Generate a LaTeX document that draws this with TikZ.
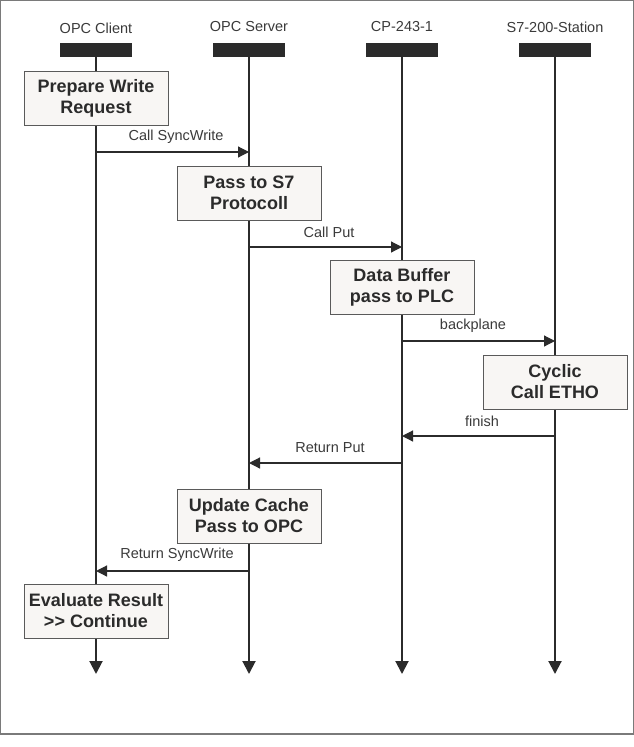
\documentclass[tikz,border=0pt]{standalone}
\usepackage{fontspec}
\setmainfont{Liberation Sans}
\usetikzlibrary{arrows.meta}
\definecolor{ink}{HTML}{2B2B2B}
\definecolor{lbl}{HTML}{3A3A3A}
\definecolor{boxfill}{HTML}{F8F6F4}
\definecolor{boxline}{HTML}{5A5A5A}
\definecolor{frame}{HTML}{7A7A7A}
\begin{document}
\begin{tikzpicture}[x=1pt,y=-1pt,
  title/.style={font=\fontsize{14.5}{16}\selectfont, text=lbl, inner sep=0pt},
  headbar/.style={fill=ink, minimum width=72pt, minimum height=14pt, inner sep=0pt},
  life/.style={draw=ink, line width=2pt, -{Triangle[length=13pt,width=13pt]}},
  act/.style={draw=boxline, fill=boxfill, line width=0.9pt, minimum width=144pt, minimum height=54pt, align=center, inner sep=0pt, font=\fontsize{18}{21}\selectfont\bfseries, text=ink},
  msg/.style={draw=ink, line width=1.2pt, -{Triangle[length=11pt,width=11pt]}},
  mlbl/.style={font=\fontsize{14.5}{16}\selectfont, text=lbl, inner sep=0pt}]
\useasboundingbox (0,0) rectangle (634,747);
\draw[frame, line width=1.2pt] (0.6,0.6) rectangle (633.4,734);

% headers
\node[title] (t1) at (96,28) {OPC Client};
\node[title] (t2) at (249,27) {OPC Server};
\node[title] (t3) at (402,27) {CP-243-1};
\node[title] (t4) at (555,27) {S7-200-Station};
\node[headbar] (h1) at (96,50) {};
\node[headbar] (h2) at (249,50) {};
\node[headbar] (h3) at (402,50) {};
\node[headbar] (h4) at (555,50) {};
\coordinate (e1) at (96,674);
\coordinate (e2) at (249,674);
\coordinate (e3) at (402,674);
\coordinate (e4) at (555,674);
\draw[life] (h1.south) -- (e1);
\draw[life] (h2.south) -- (e2);
\draw[life] (h3.south) -- (e3);
\draw[life] (h4.south) -- (e4);

% activity boxes
\node[act] (b1) at (96,98) {Prepare Write\\Request};
\node[act] (b2) at (249,193) {Pass to S7\\Protocoll};
\node[act] (b3) at (402,287) {Data Buffer\\pass to PLC};
\node[act] (b4) at (555,382) {Cyclic\\Call ETHO};
\node[act] (b5) at (249,516) {Update Cache\\Pass to OPC};
\node[act] (b6) at (96,611) {Evaluate Result\\>{}> Continue};

% message anchors
\coordinate (m1a) at (96,152);  \coordinate (m1b) at (249,152);
\coordinate (m2a) at (249,247); \coordinate (m2b) at (402,247);
\coordinate (m3a) at (402,341); \coordinate (m3b) at (555,341);
\coordinate (m4a) at (555,436); \coordinate (m4b) at (402,436);
\coordinate (m5a) at (402,463); \coordinate (m5b) at (249,463);
\coordinate (m6a) at (249,571); \coordinate (m6b) at (96,571);

\draw[msg] (m1a) -- (m1b);
\draw[msg] (m2a) -- (m2b);
\draw[msg] (m3a) -- (m3b);
\draw[msg] (m4a) -- (m4b);
\draw[msg] (m5a) -- (m5b);
\draw[msg] (m6a) -- (m6b);

\node[mlbl] (l1) at (176,137) {Call SyncWrite};
\node[mlbl] (l2) at (329,232) {Call Put};
\node[mlbl] (l3) at (473,326) {backplane};
\node[mlbl] (l4) at (482,421) {finish};
\node[mlbl] (l5) at (330,448) {Return Put};
\node[mlbl] (l6) at (177,555) {Return SyncWrite};
\end{tikzpicture}
\end{document}
